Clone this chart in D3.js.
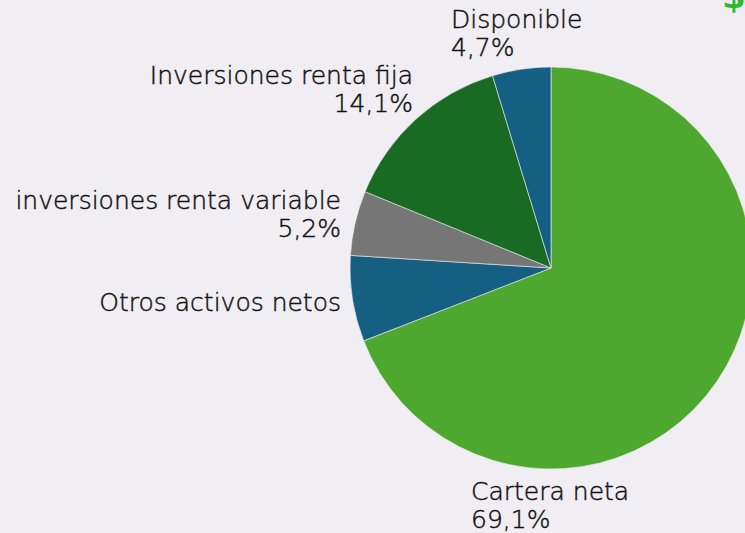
<!DOCTYPE html>
<html>
<head>
<meta charset="utf-8">
<script src="https://cdn.jsdelivr.net/npm/d3@7"></script>
<style>
  body { margin: 0; background: #f0eef2; }
  svg text.lbl { font-family: "DejaVu Sans", sans-serif; fill: #111; stroke: #111; stroke-width: 0.45px; }
</style>
</head>
<body>
<div id="chart"></div>
<script>
// slices, clockwise from 12 o'clock
const categories = ["Cartera neta", "Otros activos netos", "inversiones renta variable", "Inversiones renta fija", "Disponible"];
const shares = [69.1, 6.9, 5.2, 14.1, 4.7];
const pctLabels = ["69,1%", "", "5,2%", "14,1%", "4,7%"];
const colors = ["#4ea72e", "#156082", "#767676", "#196b24", "#156082"];

const width = 745, height = 533;
const cx = 551, cy = 268, radius = 201;

const svg = d3.select("#chart").append("svg")
  .attr("width", width)
  .attr("height", height);

svg.append("rect").attr("width", width).attr("height", height).attr("fill", "#f0eef2");

const data = categories.map((c, i) => ({name: c, value: shares[i], pct: pctLabels[i], color: colors[i]}));

const pie = d3.pie().sort(null).value(d => d.value);
const arc = d3.arc().innerRadius(0).outerRadius(radius);

const g = svg.append("g").attr("transform", `translate(${cx},${cy})`);

g.selectAll("path.slice")
  .data(pie(data))
  .enter().append("path")
  .attr("class", "slice")
  .attr("d", arc)
  .attr("fill", d => d.data.color)
  .attr("stroke", "#f0eef2")
  .attr("stroke-width", 0.6);

// label anchors (outside the pie, placed like the original)
const labelPos = [
  {x: 471, y: 500, anchor: "start"},
  {x: 341, y: 311, anchor: "end"},
  {x: 341, y: 209, anchor: "end"},
  {x: 413, y: 84, anchor: "end"},
  {x: 451, y: 28, anchor: "start"}
];

const fontSize = 25;
const lineGap = 28;

const labels = svg.selectAll("g.label")
  .data(data)
  .enter().append("g")
  .attr("class", "label");

labels.append("text")
  .attr("class", "lbl")
  .attr("x", (d, i) => labelPos[i].x)
  .attr("y", (d, i) => labelPos[i].y)
  .attr("text-anchor", (d, i) => labelPos[i].anchor)
  .style("font-size", fontSize + "px")
  .style("font-weight", 200)
  .text(d => d.name);

labels.append("text")
  .attr("class", "lbl")
  .attr("x", (d, i) => labelPos[i].x)
  .attr("y", (d, i) => labelPos[i].y + lineGap)
  .attr("text-anchor", (d, i) => labelPos[i].anchor)
  .style("font-size", fontSize + "px")
  .style("font-weight", 200)
  .text(d => d.pct);

// clipped glyph in the top right corner
svg.append("text")
  .attr("x", 722)
  .attr("y", 8)
  .style("font-family", "DejaVu Sans, sans-serif")
  .style("font-size", "34px")
  .style("font-weight", "bold")
  .style("fill", "#2fb82f")
  .text("$");
</script>
</body>
</html>
